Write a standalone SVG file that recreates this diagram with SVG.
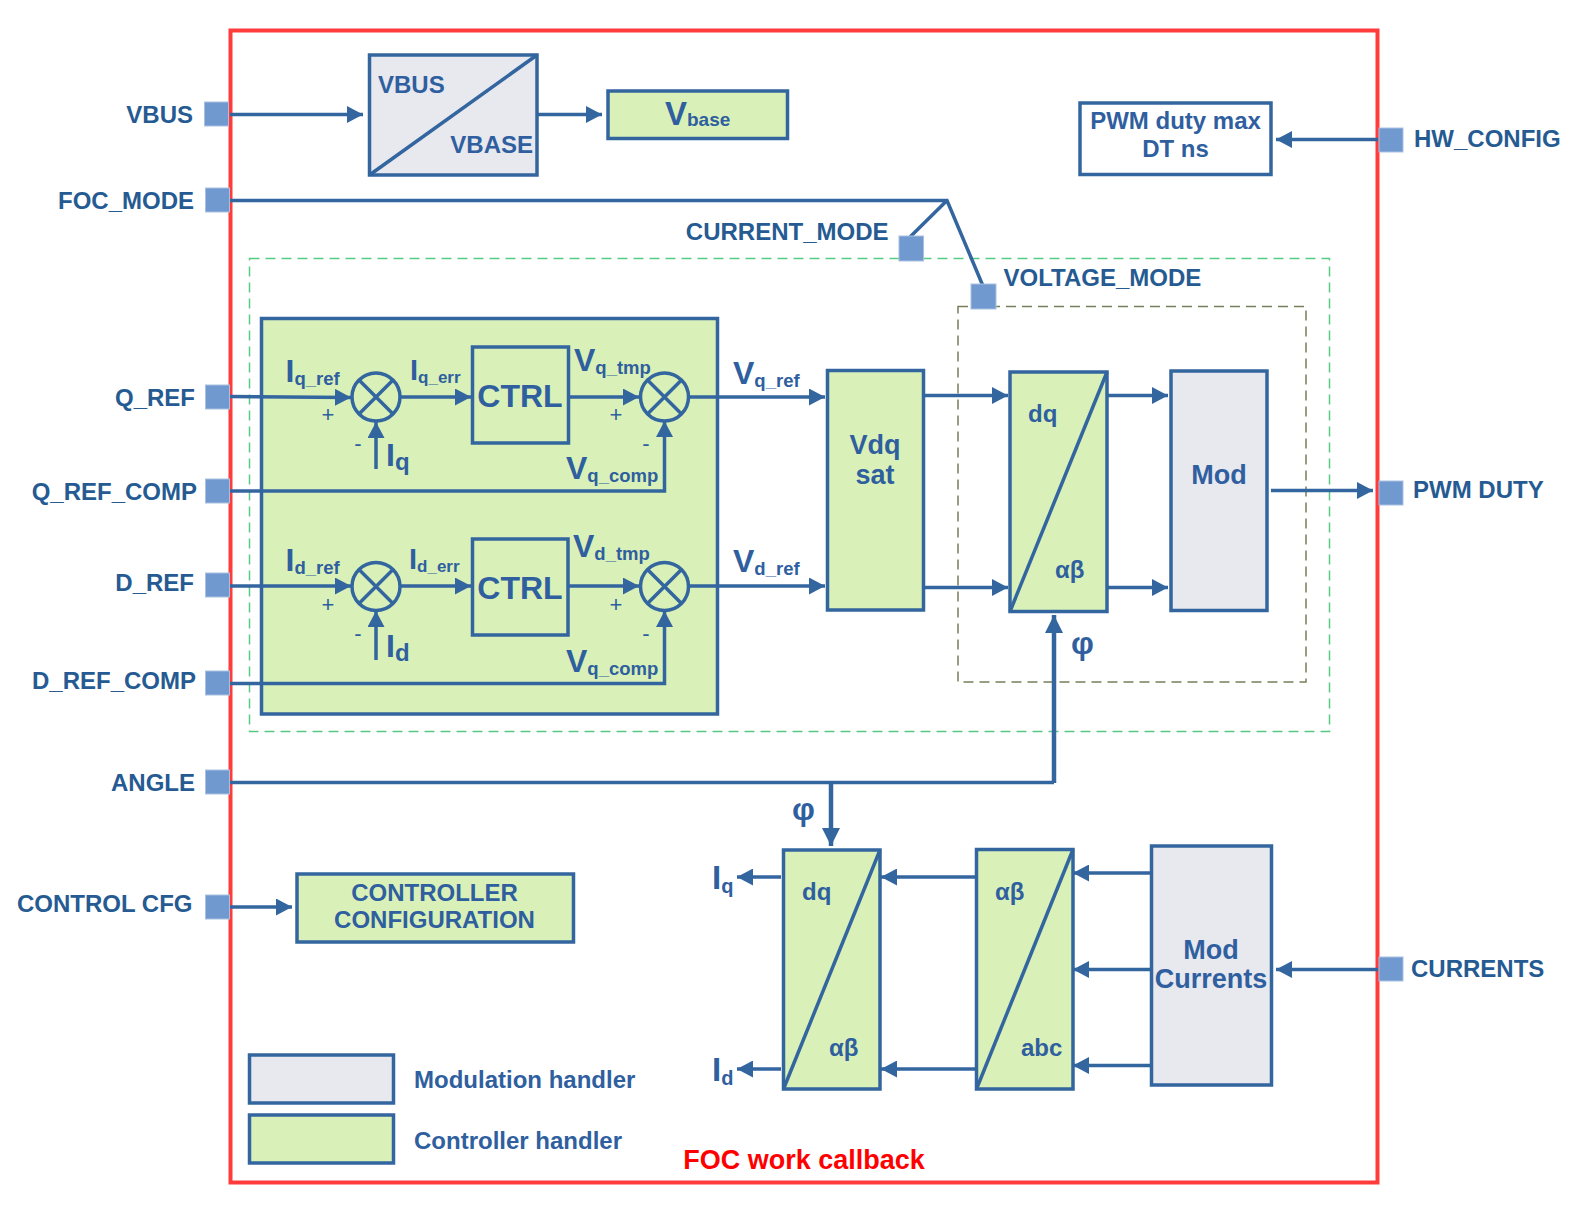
<svg xmlns="http://www.w3.org/2000/svg" width="1582" height="1208" viewBox="0 0 1582 1208">
<style>
text{font-family:"Liberation Sans",Arial,sans-serif;font-weight:bold;fill:#2f5f9f}
.lbl{font-size:24px;fill:#255b92}
.e{text-anchor:end}.m{text-anchor:middle}
.s{font-size:24px}
.big{font-size:33px}
.sub{font-size:18.500px}
.sm{font-size:17px}
.port{fill:#7099cf;stroke:#a9c0e0;stroke-width:1}
.b{stroke:#33659f;stroke-width:3.5}
.g{fill:#d9f1b8}.v{fill:#e8e8ef}.w{fill:#fff}
.l{fill:none;stroke:#33659f;stroke-width:3.5}
.a{fill:none;stroke:#33659f;stroke-width:3.5;marker-end:url(#ah)}
.t{fill:none;stroke:#33659f;stroke-width:4.500;marker-end:url(#ah2)}
.p{font-size:22px;font-weight:normal;text-anchor:middle}
</style>
<defs>
<marker id="ah" markerUnits="userSpaceOnUse" markerWidth="17" markerHeight="17" refX="16" refY="8.500" orient="auto"><path d="M0 0L16 8.500L0 17Z" fill="#33659f"/></marker>
<marker id="ah2" markerUnits="userSpaceOnUse" markerWidth="18" markerHeight="20" refX="18" refY="9" orient="auto"><path d="M0 0L18 9L0 18Z" fill="#33659f"/></marker>
</defs>
<rect x="0" y="0" width="1582" height="1208" fill="#fff"/>
<g id="frame"><rect x="230.500" y="30.500" width="1147" height="1152" fill="none" stroke="#ff3b3b" stroke-width="4"/><text x="804" y="1169" class="m" style="fill:#ff0000;font-size:27px">FOC work callback</text></g>
<g id="dashed">
<rect x="249.500" y="258.500" width="1080" height="473" fill="none" stroke="#55cc80" stroke-width="1.500" stroke-dasharray="10 6"/>
<rect x="958" y="306.500" width="348" height="375.500" fill="none" stroke="#76805a" stroke-width="1.500" stroke-dasharray="10 6"/>
</g>
<g id="controller-bg"><rect x="261.500" y="318.500" width="456" height="395.500" class="g b"/></g>
<g id="connectors">
<path class="a" d="M230 114.500H363"/>
<path class="a" d="M537 114.500H602"/>
<path class="a" d="M1378 139.500H1276"/>
<path class="l" d="M230 200.500H947L983 286M947 200.500L910 237"/>
<path class="a" d="M230 396.500L351 397.500"/>
<path class="a" d="M400 397H471"/>
<path class="a" d="M568 397H639"/>
<path class="a" d="M688 397H825"/>
<path class="a" d="M376 469V422"/>
<path class="a" d="M230 491H664.500V421"/>
<path class="a" d="M230 586H351"/>
<path class="a" d="M400 586H471"/>
<path class="a" d="M568 586H639"/>
<path class="a" d="M688 586H825"/>
<path class="a" d="M376 660V611"/>
<path class="a" d="M230 683.500H664.500V611"/>
<path class="a" d="M923 395.500H1008"/>
<path class="a" d="M923 587.500H1008"/>
<path class="a" d="M1107 395.500H1168"/>
<path class="a" d="M1107 587.500H1168"/>
<path class="a" d="M1271 490.500H1373"/>
<path class="l" d="M230 782.500H1054"/>
<path class="t" d="M1054 783V615"/>
<path class="t" d="M831 783V846"/>
<path class="a" d="M781 877H737"/>
<path class="a" d="M781 1069H737"/>
<path class="a" d="M976 877H881"/>
<path class="a" d="M976 1069H881"/>
<path class="a" d="M1151 873H1073"/>
<path class="a" d="M1151 969.500H1073"/>
<path class="a" d="M1151 1065.500H1073"/>
<path class="a" d="M1378 969.500H1276"/>
<path class="a" d="M230 907H292"/>
</g>
<g id="ports">
<rect class="port" x="204.500" y="102" width="24" height="24"/><text class="lbl e" x="193" y="123">VBUS</text>
<rect class="port" x="205.500" y="188" width="24" height="24"/><text class="lbl e" x="194" y="209">FOC_MODE</text>
<rect class="port" x="899" y="236" width="24.500" height="25"/><text class="lbl e" x="888.500" y="240">CURRENT_MODE</text>
<rect class="port" x="971" y="284" width="25" height="25"/><text class="lbl" x="1003.500" y="286">VOLTAGE_MODE</text>
<rect class="port" x="205.500" y="385" width="24" height="24"/><text class="lbl e" x="195" y="406">Q_REF</text>
<rect class="port" x="205.500" y="479" width="24" height="24"/><text class="lbl e" x="197" y="500">Q_REF_COMP</text>
<rect class="port" x="205.500" y="573" width="24" height="24"/><text class="lbl e" x="194" y="591">D_REF</text>
<rect class="port" x="205.500" y="671" width="24" height="24"/><text class="lbl e" x="196" y="689">D_REF_COMP</text>
<rect class="port" x="205.500" y="770" width="24" height="24"/><text class="lbl e" x="195" y="791">ANGLE</text>
<rect class="port" x="205.500" y="895" width="24" height="24"/><text class="lbl e" x="192.500" y="912">CONTROL CFG</text>
<rect class="port" x="1379" y="128" width="24" height="24"/><text class="lbl" x="1414" y="147">HW_CONFIG</text>
<rect class="port" x="1379" y="481" width="24" height="24"/><text class="lbl" x="1413" y="498">PWM DUTY</text>
<rect class="port" x="1379" y="957" width="24" height="24"/><text class="lbl" x="1411" y="977">CURRENTS</text>
</g>
<g id="vbus-block"><rect x="369.500" y="55" width="167.500" height="120" class="v b"/><path class="l" d="M369.500 175L537 55"/><text class="s" x="378" y="93">VBUS</text><text class="s e" x="533" y="153">VBASE</text></g>
<g id="vbase"><rect x="608" y="91" width="179.500" height="47.500" class="g b"/><text x="665" y="125" class="big">V<tspan class="sub" style="font-size:19px" dy="1">base</tspan></text></g>
<g id="pwm-max"><rect x="1080" y="103" width="191" height="71.500" class="w b"/><text class="s m" x="1175.500" y="129">PWM duty max</text><text class="s m" x="1175.500" y="157">DT ns</text></g>
<g id="sum-q1"><circle cx="376" cy="397" r="24" class="g b"/><path class="l" d="M359 380L393 414M393 380L359 414"/></g>
<g id="sum-q2"><circle cx="664.500" cy="397" r="24" class="g b"/><path class="l" d="M647.500 380L681.500 414M681.500 380L647.500 414"/></g>
<g id="sum-d1"><circle cx="376" cy="586.500" r="24" class="g b"/><path class="l" d="M359 569.500L393 603.500M393 569.500L359 603.500"/></g>
<g id="sum-d2"><circle cx="664.500" cy="586.500" r="24" class="g b"/><path class="l" d="M647.500 569.500L681.500 603.500M681.500 569.500L647.500 603.500"/></g>
<g id="ctrl-q"><rect x="472.500" y="347" width="96" height="96" class="g b"/><text class="m" x="520" y="407" style="font-size:32px">CTRL</text></g>
<g id="ctrl-d"><rect x="472.500" y="539" width="95.500" height="96" class="g b"/><text class="m" x="520" y="599" style="font-size:32px">CTRL</text></g>
<g id="labels-q">
<text x="285.500" y="382" style="font-size:32px">I<tspan class="sub" dy="3">q_ref</tspan></text>
<text x="410" y="380" style="font-size:29px">I<tspan class="sm" dy="3">q_err</tspan></text>
<text x="574" y="371" style="font-size:32px">V<tspan class="sub" dy="3">q_tmp</tspan></text>
<text x="386" y="466" style="font-size:32px">I<tspan style="font-size:24px" dy="4">q</tspan></text>
<text x="566" y="479" style="font-size:32px">V<tspan class="sub" dy="3">q_comp</tspan></text>
<text x="733" y="384" style="font-size:32px">V<tspan class="sub" dy="3">q_ref</tspan></text>
<text class="p" x="328" y="422">+</text>
<text class="p" x="358" y="451">-</text>
<text class="p" x="616" y="422">+</text>
<text class="p" x="646" y="451">-</text>
</g>
<g id="labels-d">
<text x="285.500" y="571" style="font-size:32px">I<tspan class="sub" dy="3">d_ref</tspan></text>
<text x="409" y="569" style="font-size:29px">I<tspan class="sm" dy="3">d_err</tspan></text>
<text x="573" y="557" style="font-size:32px">V<tspan class="sub" dy="3">d_tmp</tspan></text>
<text x="386" y="657" style="font-size:32px">I<tspan style="font-size:24px" dy="4">d</tspan></text>
<text x="566" y="672" style="font-size:32px">V<tspan class="sub" dy="3">q_comp</tspan></text>
<text x="733" y="572" style="font-size:32px">V<tspan class="sub" dy="3">d_ref</tspan></text>
<text class="p" x="328" y="612">+</text>
<text class="p" x="358" y="641">-</text>
<text class="p" x="616" y="612">+</text>
<text class="p" x="646" y="641">-</text>
</g>
<g id="vdq-sat"><rect x="827.500" y="370.500" width="96" height="239.500" class="g b"/><text class="m" x="875" y="454" style="font-size:27px">Vdq</text><text class="m" x="875" y="484" style="font-size:27px">sat</text></g>
<g id="dq-ab"><rect x="1010" y="372" width="97" height="239.500" class="g b"/><path class="l" d="M1010 611.500L1107 372"/><text class="s" x="1028" y="422">dq</text><text class="s" x="1055" y="578">αβ</text></g>
<g id="mod"><rect x="1171" y="371" width="96" height="239.500" class="v b"/><text class="m" x="1219" y="484" style="font-size:27px">Mod</text></g>
<text x="1071" y="654" style="font-size:32px">φ</text>
<text x="792" y="820" style="font-size:32px">φ</text>
<g id="dq-ab-lower"><rect x="783.500" y="850" width="96.500" height="239" class="g b"/><path class="l" d="M783.500 1089L880 850"/><text class="s" x="802" y="900">dq</text><text class="s" x="829" y="1056">αβ</text></g>
<g id="ab-abc"><rect x="976.500" y="849.500" width="96.500" height="239.500" class="g b"/><path class="l" d="M976.500 1089L1073 849.500"/><text class="s" x="995" y="900">αβ</text><text class="s" x="1021" y="1056">abc</text></g>
<g id="mod-currents"><rect x="1151.500" y="846" width="120" height="239" class="v b"/><text class="m" x="1211" y="959" style="font-size:27px">Mod</text><text class="m" x="1211" y="988" style="font-size:27px">Currents</text></g>
<text x="712" y="889" style="font-size:33px">I<tspan style="font-size:20px" dy="4">q</tspan></text>
<text x="712" y="1081" style="font-size:33px">I<tspan style="font-size:20px" dy="4">d</tspan></text>
<g id="controller-config"><rect x="297" y="874" width="276.500" height="68" class="g b"/><text class="m s" x="434.500" y="901">CONTROLLER</text><text class="m s" x="434.500" y="928">CONFIGURATION</text></g>
<g id="legend-modulation"><rect x="249.500" y="1055" width="144" height="48" class="v b"/><text class="s" x="414" y="1088">Modulation handler</text></g>
<g id="legend-controller"><rect x="249.500" y="1115" width="144" height="48" class="g b"/><text class="s" x="414" y="1149">Controller handler</text></g>
</svg>
